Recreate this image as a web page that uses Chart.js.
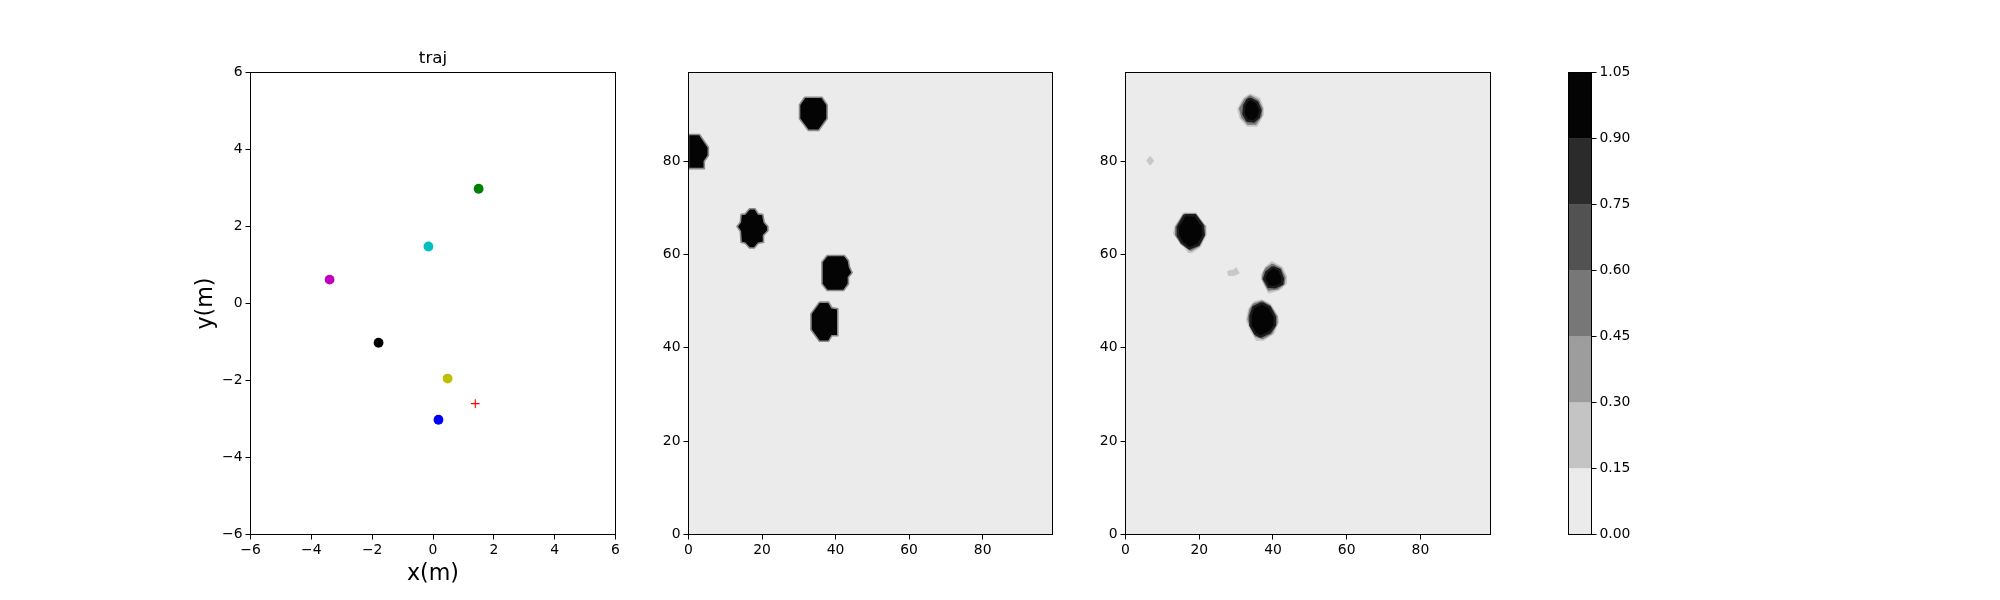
<!DOCTYPE html>
<html>
<head>
<meta charset="utf-8">
<script src="https://cdn.jsdelivr.net/npm/chart.js@4"></script>
<style>
html,body{margin:0;padding:0;background:#fff;width:2000px;height:600px;overflow:hidden}
canvas{position:absolute;left:0;top:0}
</style>
</head>
<body>
<canvas id="c1" width="2000" height="600"></canvas>
<canvas id="c2" width="2000" height="600"></canvas>
<canvas id="c3" width="2000" height="600"></canvas>
<canvas id="c4" width="2000" height="600"></canvas>
<script>
// ---- data: trajectory panel
const trajTicks = [-6,-4,-2,0,2,4,6];
const agentX = [1.50,-0.15,-3.40,-1.79,0.48,0.18];
const agentY = [2.98,1.48,0.62,-1.02,-1.95,-3.02];
const agentColors = ['#008000','#00bfbf','#bf00bf','#000000','#bfbf00','#0000ff'];
const goalX = [1.39];
const goalY = [-2.60];

// ---- data: map panels
const mapTicks = [0,20,40,60,80];

// left map: occupied regions, outline vertices in cell units
const mapA = [[31.6,93.7],[36.3,93.7],[37.7,92.1],[37.7,89.1],[35.4,86.6],[32.6,86.6],[30.2,89.1],[30.2,92.1]];
const mapB = [[0,85.7],[3,85.7],[5.4,83],[5.4,81.2],[4.3,80],[4.3,78.4],[0,78.4]];
const mapC = [[16.6,69.8],[18.1,69.8],[19,68.7],[20.2,68.6],[20.6,66.9],[21.6,66],[21.6,65.1],[20.4,64.1],[20.4,62.6],[19,62.4],[17.9,61.4],[16.6,61.4],[15.4,62.4],[14.3,62.6],[14.1,65],[13.2,66],[14.1,66.9],[14.3,68.6],[15.4,68.7]];
const mapD = [[37.7,59.8],[42.4,59.8],[43.5,58.7],[43.8,57.3],[44.5,56.1],[43.5,55.1],[43.5,53.7],[42.2,52.3],[37.7,52.3],[36.3,53.7],[36.3,58.4]];
const mapE = [[35.6,49.8],[38.1,49.8],[39,48.6],[40.6,48.4],[40.6,42.6],[39,42.6],[38.1,41.4],[35.6,41.4],[33.3,43.9],[33.3,47.3]];

// right map: contour bands of each region (core, middle, outer)
const coreF = [[33.8,93.4],[35.7,92.6],[36.6,90.9],[36.1,89.4],[34.8,88.5],[33,88.7],[32,90.1],[32.2,91.9],[33,93]];
const midF  = [[33.8,94],[36,93],[37,91.3],[36.8,89.7],[35.3,88],[33.2,88],[31.6,89.4],[31,91.3],[32.4,93.2]];
const outF  = [[33.8,94.4],[36.4,93.5],[37.3,91.6],[37.3,89.8],[35.7,87.5],[33,87.5],[31.1,89.1],[30.4,91.2],[32,93.5]];
const coreG = [[16,68.4],[18.9,68.4],[20.9,66.2],[21.2,64.2],[19.8,62.1],[17.3,61.3],[15.3,62.6],[14.2,64.1],[14.2,65.9]];
const midG  = [[15.8,68.6],[19,68.6],[21.3,66.2],[21.5,64.2],[20,61.9],[17.7,60.9],[15.1,62.3],[13.6,64.2],[13.7,65.9]];
const outG  = [[15.7,68.9],[19.1,68.9],[21.6,66.2],[21.8,64.1],[20.3,61.6],[18,60.4],[17.1,60.4],[14.9,62.6],[13,64.4],[13.3,65.9]];
const coreH = [[40,57.3],[41.8,56.7],[42.7,54.8],[42.5,53.7],[40.6,53],[38.8,53.1],[37.6,54.8],[38.2,56.2]];
const midH  = [[39.8,57.9],[42.1,57],[43.2,55.1],[43,53.7],[41.2,52.6],[38.8,52.4],[37.1,54.8],[37.5,56.1],[38.1,57]];
const outH  = [[39.7,58.5],[42.5,57.3],[43.6,55.5],[43.6,53.7],[41.8,52.4],[38.8,51.7],[37.5,53.7],[36.8,55.5],[37.9,57.3]];
const coreI = [[37,49.6],[39.1,48.7],[40.5,46.6],[40.5,44.8],[39.1,43.3],[36.6,42.4],[35.2,43],[33.9,44.8],[33.9,46.9],[34.7,48.7]];
const midI  = [[37,50],[39.2,49],[40.9,46.8],[41,45.2],[39.6,43.1],[37.2,42],[35.3,42.5],[33.9,44.6],[33.3,46.2],[33.8,48.2],[34.7,49.3]];
const outI  = [[37,50.3],[39.3,49.4],[41.3,46.9],[41.5,45.5],[40.2,43],[37.5,41.6],[35.5,41.6],[33.9,43.7],[32.8,45.9],[33.4,48.4],[34.7,49.8]];
const spotJ = [[6.7,81],[7.6,80.1],[6.7,79.2],[5.8,80.1]];
const spotK = [[27.7,56.4],[29.5,56.7],[30,57.1],[30.8,56],[29.3,55.5],[28,55.5]];

// ---- data: colour bar
const levelTicks = [0,0.15,0.30,0.45,0.60,0.75,0.90,1.05];
const levelColors = ['#ebebeb','#c4c4c4','#9d9d9d','#777777','#525252','#2b2b2b','#040404'];

// ---- layout helpers
const FONT = 'DejaVu Sans';
const TOP = 72.5, BOTTOM = 534.5;
const frame = {
  id:'frame',
  beforeDatasetsDraw(chart, a, o){
    if(o.fill){const c=chart.chartArea,g=chart.ctx;g.save();g.fillStyle=o.fill;g.fillRect(c.left,c.top,c.right-c.left,c.bottom-c.top);g.restore();}
  },
  afterDraw(chart){
    const c=chart.chartArea,g=chart.ctx;g.save();g.strokeStyle='#000';g.lineWidth=1;
    g.strokeRect(c.left,c.top,c.right-c.left,c.bottom-c.top);g.restore();
  }
};
function axis(pos,min,max,ticks,fmt,size,title){
  return {
    type:'linear',position:pos,min,max,
    afterBuildTicks:s=>{s.ticks=ticks.map(v=>({value:v}));},
    afterFit:s=>{ if(pos==='bottom') s.height=size; else s.width=size; },
    grid:{display:true,drawOnChartArea:false,drawTicks:true,tickLength:5,color:'#000',lineWidth:1},
    border:{display:false},
    ticks:{color:'#000',font:{family:FONT,size:13.9},padding:3,maxRotation:0,autoSkip:false,callback:fmt},
    title:title?{display:true,text:title,color:'#000',font:{family:FONT,size:22.2},padding:0}:{display:false}
  };
}
const minusFmt = v => String(v).replace('-','\u2212');
const plain = v => String(v);
function makePanel(id,left,right,datasets,xAxis,yAxis,xh,yw,bg){
  return new Chart(document.getElementById(id),{
    type:'scatter',
    data:{datasets},
    options:{
      responsive:false,animation:false,events:[],devicePixelRatio:1,
      layout:{padding:{left:left-yw,right:2000-right,top:TOP,bottom:600-BOTTOM-xh}},
      scales:{x:xAxis,y:yAxis},
      plugins:{legend:{display:false},tooltip:{enabled:false},frame:{fill:bg}}
    },
    plugins:[frame]
  });
}
function band(poly,color,w,edge){
  return {data:poly.concat([poly[0]]),showLine:true,fill:'shape',backgroundColor:color,
    borderColor:edge||color,borderWidth:w,pointRadius:0,tension:0};
}

// ---- panel 1: trajectory
(function(){
  const xa=axis('bottom',-6,6,trajTicks,minusFmt,53,'x(m)');
  const ya=axis('left',-6,6,trajTicks,minusFmt,58,'y(m)');
  const tTop=49;
  new Chart(document.getElementById('c1'),{
    type:'scatter',
    data:{datasets:[
      {data:agentX.map((x,i)=>({x,y:agentY[i]})),pointStyle:'circle',pointRadius:4.9,
       pointBackgroundColor:agentColors,pointBorderWidth:0},
      {data:goalX.map((x,i)=>({x,y:goalY[i]})),pointStyle:'crossRot',rotation:45,pointRadius:4.3,
       pointBorderColor:'#ff0000',pointBorderWidth:1.1}
    ]},
    options:{
      responsive:false,animation:false,events:[],devicePixelRatio:1,
      layout:{padding:{left:250.5-58,right:2000-615.5,top:tTop,bottom:600-BOTTOM-53}},
      scales:{
        x:xa,y:ya,
        xTop:{type:'linear',position:'top',min:-6,max:6,
          afterFit:s=>{s.height=TOP-tTop;},
          grid:{display:false},border:{display:false},ticks:{display:false},
          title:{display:true,text:'traj',color:'#000',font:{family:FONT,size:16.7},padding:0}}
      },
      plugins:{legend:{display:false},tooltip:{enabled:false}}
    },
    plugins:[frame]
  });
})();

// ---- panels 2 and 3: maps
(function(){
  const ds2=[mapA,mapB,mapC,mapD,mapE].map(p=>band(p,'#040404',1.6,'#8a8a8a'));
  makePanel('c2',688.5,1052.5,ds2,axis('bottom',0,99,mapTicks,plain,30),axis('left',0,99,mapTicks,plain,40),30,40,'#ebebeb');

  const ds3=[].concat(
    [coreF,coreG,coreH,coreI].map(p=>band(p,'#040404',2.5,'#1c1c1c')),
    [midF,midG,midH,midI].map(p=>band(p,'#777777',1.6)),
    [outF,outG,outH,outI].map(p=>band(p,'#c4c4c4',0.8)),
    [spotJ,spotK].map(p=>band(p,'#c8c8c8',1.2))
  );
  makePanel('c3',1125.5,1490.5,ds3,axis('bottom',0,99,mapTicks,plain,30),axis('left',0,99,mapTicks,plain,40),30,40,'#ebebeb');
})();

// ---- colour bar
(function(){
  const ds=levelColors.map((c,i)=>({
    data:[[levelTicks[i],levelTicks[i+1]]],backgroundColor:c,borderWidth:0,
    barPercentage:1,categoryPercentage:1,grouped:false
  }));
  const ya=axis('right',0,1.05,levelTicks,v=>v.toFixed(2),50);
  new Chart(document.getElementById('c4'),{
    type:'bar',
    data:{labels:['level'],datasets:ds},
    options:{
      responsive:false,animation:false,events:[],devicePixelRatio:1,
      layout:{padding:{left:1568.5,right:2000-1591.5-50,top:TOP,bottom:600-BOTTOM}},
      scales:{x:{display:false},y:ya},
      plugins:{legend:{display:false},tooltip:{enabled:false}}
    },
    plugins:[frame]
  });
})();
</script>
</body>
</html>
